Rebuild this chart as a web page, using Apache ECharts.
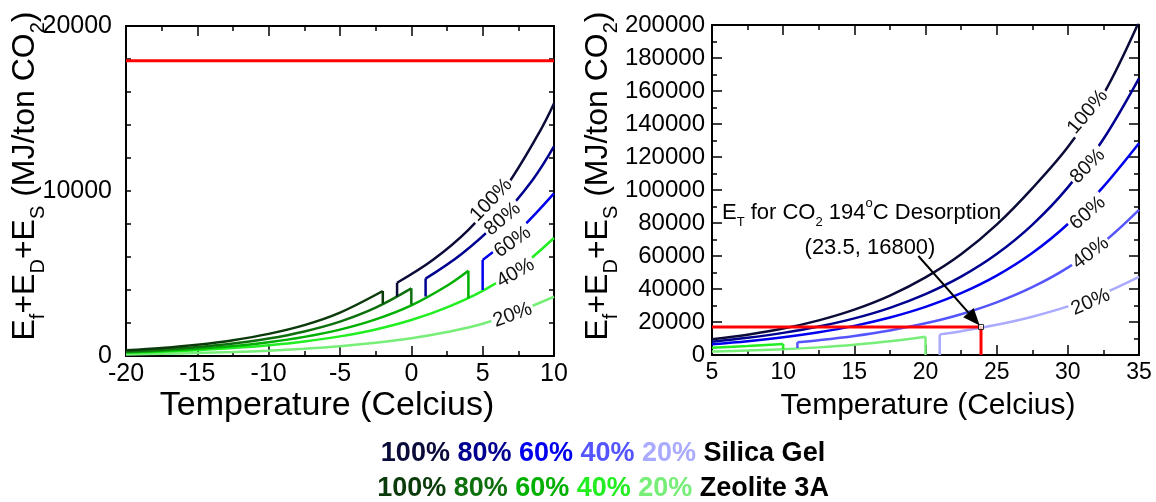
<!DOCTYPE html>
<html><head><meta charset="utf-8">
<script src="https://cdn.jsdelivr.net/npm/echarts@6/dist/echarts.min.js"></script>
<style>html,body{margin:0;padding:0;background:#fff}#c{width:1156px;height:502px}</style>
</head><body><div id="c"></div>
<script>
// ---------- DATA ----------
// Left panel (Temperature -20..10 C, energy 0..20000 MJ/ton CO2)
const zeo100L = [[-20,345],[-17.5,485],[-15,680],[-12.5,955],[-10,1340],[-7.5,1870],[-5,2630],[-2,3940]];
const zeo100LStep = [[-2,3940],[-2,3180]];
const zeo80L = [[-20,275],[-17.5,385],[-15,540],[-12.5,760],[-10,1060],[-7.5,1490],[-5,2085],[-2.5,2930],[0,4100]];
const zeo80LStep = [[0,4100],[0,3100]];
const zeo60L = [[-20,225],[-17.5,315],[-15,435],[-12.5,600],[-10,835],[-7.5,1160],[-5,1600],[-2.5,2220],[0,3070],[2.5,4260],[4,5170]];
const zeo60LStep = [[4,5170],[4,3500]];
const zeo40L = [[-20,195],[-17.5,262],[-15,355],[-12.5,480],[-10,650],[-7.5,880],[-5,1190],[-2.5,1610],[0,2180],[2.5,2950],[5,3950],[7.5,5300],[10,7150]];
const zeo20L = [[-20,98],[-17.5,132],[-15,178],[-12.5,240],[-10,325],[-7.5,440],[-5,590],[-2.5,800],[0,1070],[2.5,1450],[5,1950],[7.5,2700],[10,3590]];
const sil100LStep = [[-1,3600],[-1,4440]];
const sil100L = [[-1,4440],[1.5,5820],[4,7650],[6.5,10100],[9,13600],[10,15300]];
const sil80LStep = [[1,3600],[1,4690]];
const sil80L = [[1,4690],[3.5,6170],[6,8100],[8.5,10670],[10,12700]];
const sil60LStep = [[5,4000],[5,5820]];
const sil60L = [[5,5820],[7.5,7580],[10,9860]];
const redL = [[-20,17900],[10,17900]];

// Right panel (Temperature 5..35 C, energy 0..200000 MJ/ton CO2)
const sil100R = [[5,9500],[7.5,12300],[10,16000],[12.5,21000],[15,27500],[17.5,36000],[20,47000],[22.5,61000],[25,79000],[27.5,101000],[30,126000],[32.5,158000],[35,202000]];
const sil80R = [[5,8060],[7.5,10400],[10,13400],[12.5,17250],[15,22200],[17.5,28600],[20,36900],[22.5,47500],[25,61200],[27.5,78900],[30,101600],[32.5,130900],[35,167700]];
const sil60R = [[5,6480],[7.5,8320],[10,10700],[12.5,13750],[15,17650],[17.5,22700],[20,29150],[22.5,37450],[25,48100],[27.5,61800],[30,79400],[32.5,102000],[35,128300]];
const sil40RStep = [[11,4300],[11,7700]];
const sil40R = [[11,7700],[12.5,8960],[15,11560],[17.5,14900],[20,19200],[22.5,24740],[25,31890],[27.5,41100],[30,52960],[32.5,68260],[35,87950]];
const sil20RStep = [[21,0],[21,12500]];
const sil20R = [[21,12500],[22.5,14420],[25,18290],[27.5,23210],[30,29450],[32.5,37360],[35,47400]];
const zeo40R = [[5,4400],[7.5,5430],[10,6670]];
const zeo40RStep = [[10,6670],[10,3450]];
const zeo20R = [[5,2100],[7.5,2700],[10,3450],[12.5,4620],[15,6200],[17.5,8300],[20,11120]];
const zeo20RStep = [[20,11120],[20,0]];
const redR = [[5,17000],[23.9,17000],[23.9,0]];
const desorbPoint = [[23.9,17000]];

// Tick labels / text
const leftXTicks = [-20,-15,-10,-5,0,5,10];
const rightXTicks = [5,10,15,20,25,30,35];
const pctLabels = ['100%','80%','60%','40%','20%'];
// curve label anchors [T, E, angleDeg]
const leftLabelPos = [[5.6,9450,46],[6.4,8300,40],[7.1,6910,35],[7.3,5030,30],[7.1,2480,20]];
const rightLabelPos = [[31.4,147300,50],[31.4,114500,45],[31.4,86000,41],[31.6,61800,37],[31.6,32100,24]];
const annotTitlePos = [5.7, 86000];
const annotCoordPos = [16.1, 64800];
const arrowFrom = [19.5, 60000];

const silColors = ['#0b0b3a','#000090','#0000ee','#5555ff','#aaaaff'];
const zeoColors = ['#0b3a0b','#0d700d','#00b000','#22ee22','#77ee77'];
const FONT = '"Liberation Sans", Arial, Helvetica, sans-serif';

// ---------- CHART ----------
const chart = echarts.init(document.getElementById('c'), null, {renderer:'canvas'});
const plain = v => String(v);

function xAx(grid, min, max, pos, showLabel, fs){
  return {type:'value', gridIndex:grid, min:min, max:max, interval:5, position:pos,
    splitLine:{show:false},
    axisLine:{show:true, onZero:false, lineStyle:{color:'#000', width:2}},
    axisTick:{show:true, inside:true, length:10, lineStyle:{color:'#000', width:1.5}},
    minorTick:{show:true, splitNumber:2, length:5, lineStyle:{color:'#000', width:1.5}},
    axisLabel:{show:showLabel, fontSize:fs, color:'#000', fontFamily:FONT, margin:6, formatter:plain}};
}
function yAx(grid, max, interval, split, majorLen, pos, showLabel, fs, margin){
  return {type:'value', gridIndex:grid, min:0, max:max, interval:interval, position:pos,
    splitLine:{show:false},
    axisLine:{show:true, onZero:false, lineStyle:{color:'#000', width:2}},
    axisTick:{show:true, inside:true, length:majorLen, lineStyle:{color:'#000', width:1.5}},
    minorTick:{show:true, splitNumber:split, length:5, lineStyle:{color:'#000', width:1.5}},
    axisLabel:{show:showLabel, fontSize:fs, color:'#000', fontFamily:FONT, margin:margin, formatter:plain}};
}
function line(data, color, g, opts){
  return Object.assign({type:'line', data:data, xAxisIndex:g*2, yAxisIndex:g*2,
    showSymbol:false, symbol:'none', smooth:0.35, clip:true, silent:true,
    lineStyle:{color:color, width:2.5}, z:3}, opts||{});
}
const straight = {smooth:false};

const series = [
  line(zeo20L, zeoColors[4], 0), line(zeo40L, zeoColors[3], 0),
  line(zeo60L, zeoColors[2], 0), line(zeo60LStep, zeoColors[2], 0, straight),
  line(zeo80L, zeoColors[1], 0), line(zeo80LStep, zeoColors[1], 0, straight),
  line(zeo100L, zeoColors[0], 0), line(zeo100LStep, zeoColors[0], 0, straight),
  line(sil60LStep, silColors[2], 0, straight), line(sil60L, silColors[2], 0),
  line(sil80LStep, silColors[1], 0, straight), line(sil80L, silColors[1], 0),
  line(sil100LStep, silColors[0], 0, straight), line(sil100L, silColors[0], 0),
  line(redL, '#ff0000', 0, {smooth:false, lineStyle:{color:'#ff0000', width:3}, z:5}),
  line(zeo20R, zeoColors[4], 1), line(zeo20RStep, zeoColors[4], 1, straight),
  line(zeo40R, zeoColors[3], 1), line(zeo40RStep, zeoColors[3], 1, straight),
  line(sil20RStep, silColors[4], 1, straight), line(sil20R, silColors[4], 1),
  line(sil40RStep, silColors[3], 1, straight), line(sil40R, silColors[3], 1),
  line(sil60R, silColors[2], 1), line(sil80R, silColors[1], 1), line(sil100R, silColors[0], 1),
  line(redR, '#ff0000', 1, {smooth:false, lineStyle:{color:'#ff0000', width:3}, z:5}),
  {type:'scatter', data:desorbPoint, xAxisIndex:2, yAxisIndex:2, symbol:'rect', symbolSize:5,
   itemStyle:{color:'#fff', borderColor:'#000', borderWidth:1}, z:8, silent:true}
];

chart.setOption({
  animation:false,
  backgroundColor:'#fff',
  grid:[{left:126, top:26, width:428, height:330}, {left:712, top:25, width:427, height:330}],
  xAxis:[xAx(0,-20,10,'bottom',true,25), xAx(0,-20,10,'top',false,25),
         xAx(1,5,35,'bottom',true,23), xAx(1,5,35,'top',false,23)],
  yAxis:[yAx(0,20000,10000,5,5,'left',true,25,14), yAx(0,20000,10000,5,5,'right',false,25,14),
         yAx(1,200000,20000,2,10,'left',true,24,7), yAx(1,200000,20000,2,10,'right',false,24,7)],
  series:series
});

// ---------- TEXT / ANNOTATIONS ----------
function px(g, pt){ return chart.convertToPixel({gridIndex:g}, pt); }
const graphics = [];
function pctText(g, pos, txt){
  const p = px(g, [pos[0], pos[1]]);
  graphics.push({type:'text', x:p[0], y:p[1], rotation:pos[2]*Math.PI/180, z:100,
    style:{text:txt, fontSize:20, fontFamily:FONT, fill:'#111', align:'center', verticalAlign:'middle',
      backgroundColor:'#fff', padding:[0,2]}});
}
leftLabelPos.forEach((p,i)=>pctText(0,p,pctLabels[i]));
rightLabelPos.forEach((p,i)=>pctText(1,p,pctLabels[i]));

const yTitle = '{m|E}{s|f}{m|+E}{s|D}{m|+E}{s|S}{m| (MJ/ton CO}{s|2}{m|)}';
const yRich = {m:{fontSize:32, lineHeight:46, fontFamily:FONT, fill:'#000'},
               s:{fontSize:20, lineHeight:18, fontFamily:FONT, fill:'#000', verticalAlign:'bottom'}};
[[25,176],[598,176]].forEach(c=>{
  graphics.push({type:'text', x:c[0], y:c[1], rotation:Math.PI/2, z:100,
    style:{text:yTitle, rich:yRich, align:'center', verticalAlign:'middle'}});
});
graphics.push({type:'text', x:327, y:406, z:100, style:{text:'Temperature (Celcius)', fontSize:34, fontFamily:FONT, fill:'#000', align:'center', verticalAlign:'middle'}});
graphics.push({type:'text', x:928, y:406, z:100, style:{text:'Temperature (Celcius)', fontSize:30, fontFamily:FONT, fill:'#000', align:'center', verticalAlign:'middle'}});

// annotation
const pa = px(1, annotTitlePos), pc = px(1, annotCoordPos);
graphics.push({type:'text', x:pa[0], y:pa[1], z:100, style:{
  text:'{m|E}{s|T}{m| for CO}{s|2}{m| 194}{u|o}{m|C Desorption}',
  rich:{m:{fontSize:22, lineHeight:32, fontFamily:FONT, fill:'#000'},
        s:{fontSize:13, lineHeight:12, fontFamily:FONT, fill:'#000', verticalAlign:'bottom'},
        u:{fontSize:13, lineHeight:14, fontFamily:FONT, fill:'#000', verticalAlign:'top'}},
  align:'left', verticalAlign:'middle'}});
graphics.push({type:'text', x:pc[0], y:pc[1], z:100, style:{text:'(23.5, 16800)', fontSize:22, fontFamily:FONT, fill:'#000', align:'center', verticalAlign:'middle'}});
const a0 = px(1, arrowFrom), a1 = px(1, desorbPoint[0]);
{
  const dx=a1[0]-a0[0], dy=a1[1]-a0[1], L=Math.hypot(dx,dy), ux=dx/L, uy=dy/L;
  const tip=[a1[0]-ux*2, a1[1]-uy*2], hl=17, hw=7;
  const base=[tip[0]-ux*hl, tip[1]-uy*hl];
  graphics.push({type:'line', z:100, shape:{x1:a0[0], y1:a0[1], x2:base[0], y2:base[1]}, style:{stroke:'#000', lineWidth:2}});
  graphics.push({type:'polygon', z:100, shape:{points:[tip,[base[0]-uy*hw, base[1]+ux*hw],[base[0]+uy*hw, base[1]-ux*hw]]}, style:{fill:'#000'}});
}

// legend rows
function legendRow(colors, name, y){
  const rich = {};
  colors.forEach((c,i)=>{ rich['c'+i] = {fill:c, fontSize:27, fontWeight:'bold', fontFamily:FONT}; });
  rich.k = {fill:'#000', fontSize:27, fontWeight:'bold', fontFamily:FONT};
  const txt = pctLabels.map((p,i)=>'{c'+i+'|'+p+' }').join('') + '{k|'+name+'}';
  graphics.push({type:'text', x:603, y:y, z:100, style:{text:txt, rich:rich, align:'center', verticalAlign:'middle'}});
}
legendRow(silColors, 'Silica Gel', 454);
legendRow(zeoColors, 'Zeolite 3A', 489);

chart.setOption({graphic:graphics});
</script></body></html>
